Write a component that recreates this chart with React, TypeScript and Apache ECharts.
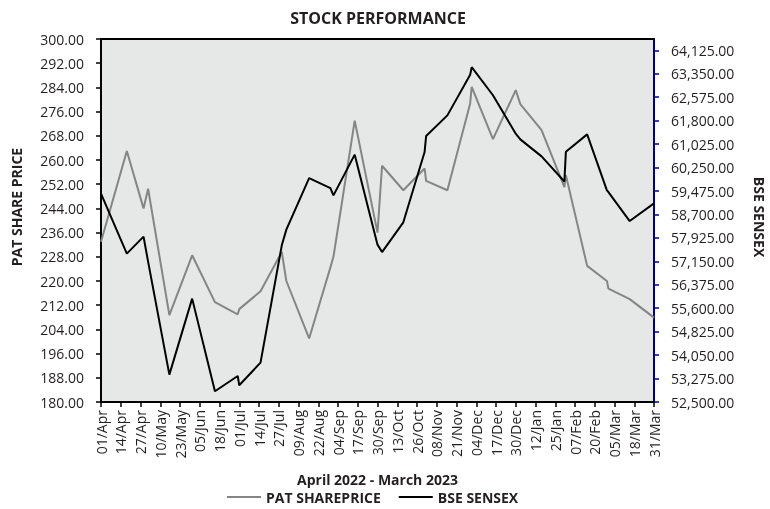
import React, { useEffect, useRef } from "react";
import * as echarts from "echarts";

const dates = [
  "2022-04-01", "2022-04-18", "2022-04-29", "2022-05-02", "2022-05-16", "2022-05-31",
  "2022-06-15", "2022-06-30", "2022-07-01", "2022-07-15", "2022-07-29", "2022-08-01",
  "2022-08-16", "2022-08-30", "2022-09-01", "2022-09-15", "2022-09-30", "2022-10-03",
  "2022-10-17", "2022-10-31", "2022-11-01", "2022-11-15", "2022-11-30", "2022-12-01",
  "2022-12-15", "2022-12-30", "2023-01-02", "2023-01-16", "2023-01-31", "2023-02-01",
  "2023-02-15", "2023-02-28", "2023-03-01", "2023-03-15", "2023-03-31",
];

const patSharePrice = [
  233.0, 263.0, 244.0, 250.5, 208.7, 228.5,
  213.0, 209.0, 210.7, 216.6, 229.6, 220.0,
  201.0, 224.5, 228.0, 273.0, 236.0, 258.1,
  250.0, 257.2, 253.1, 250.0, 278.7, 284.2,
  266.9, 283.1, 278.5, 269.9, 251.0, 255.0,
  225.0, 220.0, 217.5, 214.0, 207.9,
];

const bseSensex = [
  59390, 57405, 57966, 57140, 53405, 55917,
  52854, 53359, 53052, 53802, 57679, 58198,
  59903, 59573, 59331, 60677, 57702, 57457,
  58440, 60762, 61291, 61975, 63320, 63572,
  62640, 61370, 61182, 60620, 59790, 60770,
  61347, 59497, 59441, 58482, 59067,
];

const tickLabels = [
  "01/Apr", "14/Apr", "27/Apr", "10/May", "23/May", "05/Jun", "18/Jun", "01/Jul",
  "14/Jul", "27/Jul", "09/Aug", "22/Aug", "04/Sep", "17/Sep", "30/Sep", "13/Oct",
  "26/Oct", "08/Nov", "21/Nov", "04/Dec", "17/Dec", "30/Dec", "12/Jan", "25/Jan",
  "07/Feb", "20/Feb", "05/Mar", "18/Mar", "31/Mar",
];

const START = Date.UTC(2022, 3, 1);
const DAY = 86400000;
const dayOf = (s: string) => {
  const [y, m, d] = s.split("-").map(Number);
  return Math.round((Date.UTC(y, m - 1, d) - START) / DAY);
};

const FONT = "Open Sans";
const TXT = "#231f20";
const GRAY = "#858585";

export default function App() {
  const ref = useRef<HTMLDivElement>(null);
  useEffect(() => {
    if (!ref.current) return;
    const chart = echarts.init(ref.current, undefined, { renderer: "svg" });
    const patData = dates.map((d, i) => [dayOf(d), patSharePrice[i]]);
    const bseData = dates.map((d, i) => [dayOf(d), bseSensex[i]]);
    chart.setOption({
      animation: false,
      textStyle: { fontFamily: FONT },
      grid: {
        left: 101,
        right: 116,
        top: 39,
        bottom: 107,
        show: true,
        backgroundColor: "#e6e7e7",
        borderWidth: 0,
      },
      graphic: [
        {
          type: "text",
          x: 378,
          y: 18,
          style: {
            text: "STOCK PERFORMANCE",
            fontFamily: FONT,
            fontWeight: "bold",
            fontSize: 16,
            fill: TXT,
            align: "center",
            verticalAlign: "middle",
          },
        },
        {
          type: "text",
          x: 16,
          y: 207,
          rotation: Math.PI / 2,
          style: {
            text: "PAT SHARE PRICE",
            fontFamily: FONT,
            fontWeight: "bold",
            fontSize: 14,
            fill: TXT,
            align: "center",
            verticalAlign: "middle",
          },
        },
        {
          type: "text",
          x: 759,
          y: 217,
          rotation: -Math.PI / 2,
          style: {
            text: "BSE SENSEX",
            fontFamily: FONT,
            fontWeight: "bold",
            fontSize: 14,
            fill: TXT,
            align: "center",
            verticalAlign: "middle",
          },
        },
      ],
      legend: {
        left: 222,
        top: 485,
        itemWidth: 34,
        itemHeight: 2,
        itemGap: 18,
        data: [
          { name: "PAT SHAREPRICE", icon: "rect", itemStyle: { color: GRAY } },
          { name: "BSE SENSEX", icon: "rect", itemStyle: { color: "#000" } },
        ],
        textStyle: { fontFamily: FONT, fontWeight: "bold", fontSize: 14, color: TXT },
      },
      xAxis: [
        {
          type: "value",
          min: 0,
          max: 364,
          interval: 13,
          name: "April 2022 - March 2023",
          nameLocation: "middle",
          nameGap: 70,
          nameTextStyle: { fontFamily: FONT, fontWeight: "bold", fontSize: 14, color: TXT },
          splitLine: { show: false },
          axisLine: { show: true, onZero: false, lineStyle: { color: "#000", width: 2 } },
          axisTick: { show: true, length: 5, lineStyle: { color: "#000", width: 1.5 } },
          axisLabel: {
            rotate: 90,
            margin: 8,
            fontSize: 14,
            color: TXT,
            fontFamily: FONT,
            formatter: (v: number) => tickLabels[Math.round(v / 13)] ?? "",
          },
        },
        {
          type: "value",
          position: "top",
          min: 0,
          max: 364,
          axisLine: { show: true, onZero: false, lineStyle: { color: "#000", width: 2 } },
          axisTick: { show: false },
          axisLabel: { show: false },
          splitLine: { show: false },
        },
      ],
      yAxis: [
        {
          type: "value",
          min: 180,
          max: 300,
          interval: 8,
          position: "left",
          splitLine: { show: false },
          axisLine: { show: true, onZero: false, lineStyle: { color: "#000", width: 2 } },
          axisTick: { show: true, length: 5, lineStyle: { color: "#000", width: 1.5 } },
          axisLabel: {
            margin: 17,
            fontSize: 14,
            color: TXT,
            fontFamily: FONT,
            formatter: (v: number) => v.toFixed(2),
          },
        },
        {
          type: "value",
          min: 52500,
          max: 64500,
          interval: 775,
          position: "right",
          splitLine: { show: false },
          axisLine: { show: true, onZero: false, lineStyle: { color: "#000080", width: 2 } },
          axisTick: { show: true, length: 5, lineStyle: { color: "#000080", width: 1.5 } },
          axisLabel: {
            margin: 17,
            fontSize: 14,
            color: TXT,
            fontFamily: FONT,
            showMaxLabel: false,
            formatter: (v: number) =>
              v.toLocaleString("en-US", { minimumFractionDigits: 2, maximumFractionDigits: 2 }),
          },
        },
      ],
      series: [
        {
          name: "PAT SHAREPRICE",
          type: "line",
          xAxisIndex: 0,
          yAxisIndex: 0,
          data: patData,
          symbol: "none",
          lineStyle: { color: GRAY, width: 2 },
          itemStyle: { color: GRAY },
        },
        {
          name: "BSE SENSEX",
          type: "line",
          xAxisIndex: 0,
          yAxisIndex: 1,
          data: bseData,
          symbol: "none",
          lineStyle: { color: "#000", width: 2 },
          itemStyle: { color: "#000" },
        },
      ],
    });
    return () => chart.dispose();
  }, []);
  return (
    <div
      ref={ref}
      style={{ position: "fixed", left: 0, top: 0, width: 770, height: 509 }}
    />
  );
}
